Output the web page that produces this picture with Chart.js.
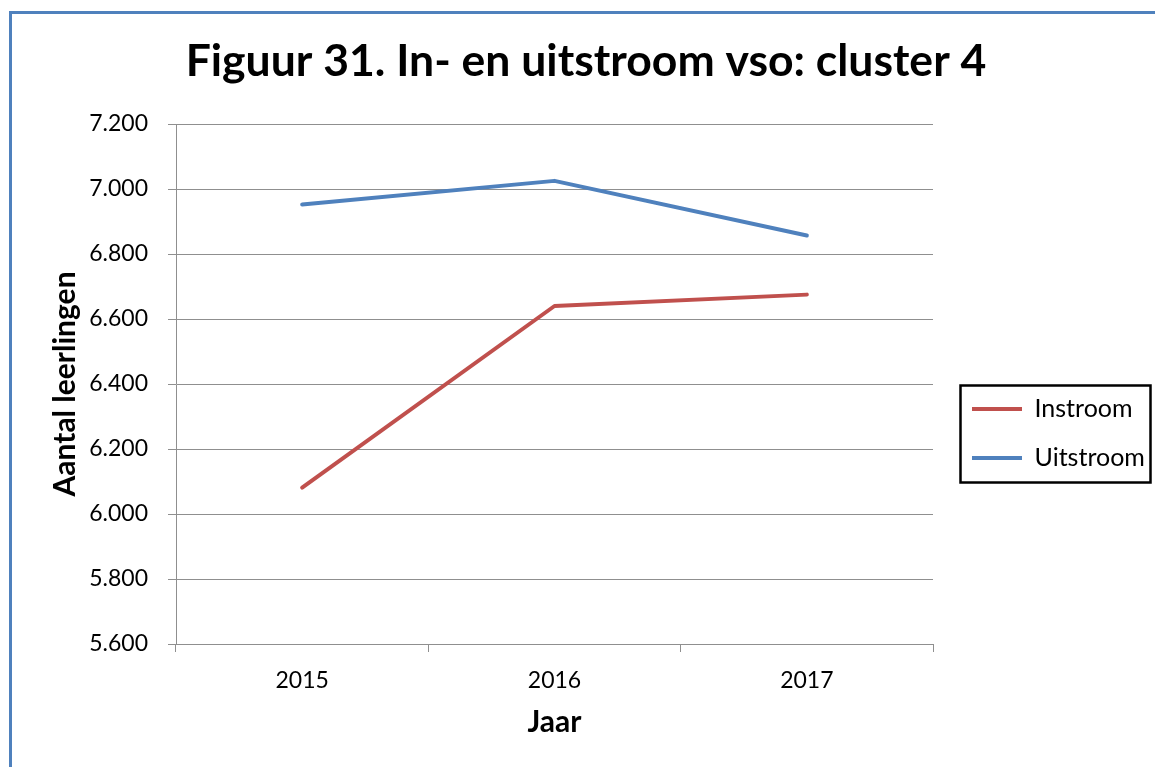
<!DOCTYPE html>
<html>
<head>
<meta charset="utf-8">
<script src="https://cdn.jsdelivr.net/npm/chart.js@4/dist/chart.umd.min.js"></script>
<style>
html,body{margin:0;padding:0;background:#fff;}
#wrap{width:1155px;height:767px;position:relative;}
</style>
</head>
<body>
<div id="wrap"><canvas id="c" width="1155" height="767"></canvas></div>
<script>
// ---- data ----
const categories = ['2015', '2016', '2017'];
const instroom = [6081, 6640, 6675];
const uitstroom = [6952, 7025, 6857];
const seriesLabels = ['Instroom', 'Uitstroom'];
const seriesColors = ['#C0504D', '#4F81BD'];
const yMin = 5600, yMax = 7200, yStep = 200;
const titleText = 'Figuur 31. In- en uitstroom vso: cluster 4';
const xTitle = 'Jaar';
const yTitle = 'Aantal leerlingen';

const FONT = 'Lato, "Open Sans", sans-serif';
const GRID = '#8f8f8f';
const LEG_PAD = 24;
const LEG_W = 222;

const fmt = v => String(v).replace(/\B(?=(\d{3})+(?!\d))/g, '.');

const framePlugin = {
  id: 'frame',
  beforeLayout(chart) {
    const lg = chart.legend;
    if (lg && !lg._fixed) {
      const f = lg.fit;
      lg.fit = function () { f.call(this); this.width = LEG_W; };
      lg._fixed = true;
    }
  },
  beforeDraw(chart) {
    const c = chart.ctx;
    c.save();
    c.fillStyle = '#fff';
    c.fillRect(0, 0, chart.width, chart.height);
    c.fillStyle = '#4F81BD';
    c.fillRect(9, 11, 3, chart.height - 11);
    c.fillRect(9, 11, chart.width - 9, 3);
    c.restore();
    const lg = chart.legend;
    if (lg) {
      lg.left = chart.chartArea.right + 15;
      lg.right = lg.left + lg.width;
      lg.top = 372.5;
      lg.bottom = lg.top + 300;
    }
  },
  afterDraw(chart) {
    const lg = chart.legend;
    if (!lg) return;
    const c = chart.ctx;
    const x0 = lg.left + LEG_PAD;
    const y0 = lg.top + LEG_PAD;
    c.save();
    c.strokeStyle = '#000';
    c.lineWidth = 2.5;
    c.strokeRect(x0 - 11.5, y0 - 11, 190, 97);
    c.restore();
  }
};

new Chart(document.getElementById('c'), {
  type: 'line',
  data: {
    labels: categories,
    datasets: [
      { label: seriesLabels[0], data: instroom, borderColor: seriesColors[0], backgroundColor: seriesColors[0],
        borderWidth: 4, pointRadius: 0, tension: 0, borderCapStyle: 'round', borderJoinStyle: 'round', fill: false },
      { label: seriesLabels[1], data: uitstroom, borderColor: seriesColors[1], backgroundColor: seriesColors[1],
        borderWidth: 4, pointRadius: 0, tension: 0, borderCapStyle: 'round', borderJoinStyle: 'round', fill: false }
    ]
  },
  options: {
    responsive: false,
    animation: false,
    devicePixelRatio: 1,
    layout: { padding: { left: 17, right: 0, top: 0, bottom: 0 } },
    plugins: {
      title: {
        display: true, text: titleText, color: '#000',
        font: { family: FONT, size: 44.5, weight: 'bold' },
        padding: { top: 35.3, bottom: 35.3 }
      },
      legend: {
        display: true, position: 'right', align: 'start',
        labels: {
          color: '#000', font: { family: FONT, size: 25 },
          usePointStyle: true, pointStyle: 'line', pointStyleWidth: 50,
          padding: LEG_PAD
        }
      },
      tooltip: { enabled: false }
    },
    scales: {
      x: {
        offset: true,
        afterFit(scale) { scale.height = 123; },
        grid: { display: true, drawOnChartArea: false, drawTicks: true, tickLength: 8, offset: true, color: GRID, lineWidth: 1 },
        border: { display: true, color: GRID, width: 1 },
        ticks: { color: '#000', font: { family: FONT, size: 23 }, padding: 15, maxRotation: 0 },
        title: { display: true, text: xTitle, color: '#000', font: { family: FONT, size: 30, weight: 'bold' }, padding: { top: 9.4, bottom: 27 } }
      },
      y: {
        min: yMin, max: yMax,
        afterFit(scale) { scale.width = 159; },
        grid: { display: true, drawOnChartArea: true, drawTicks: true, tickLength: 8, color: GRID, lineWidth: 1 },
        border: { display: true, color: GRID, width: 1 },
        ticks: { stepSize: yStep, color: '#000', font: { family: FONT, size: 23 }, padding: 20, callback: v => fmt(v) },
        title: { display: true, text: yTitle, color: '#000', font: { family: FONT, size: 30, weight: 'bold' }, padding: { top: 30, bottom: 0 } }
      }
    }
  },
  plugins: [framePlugin]
});
</script>
</body>
</html>
